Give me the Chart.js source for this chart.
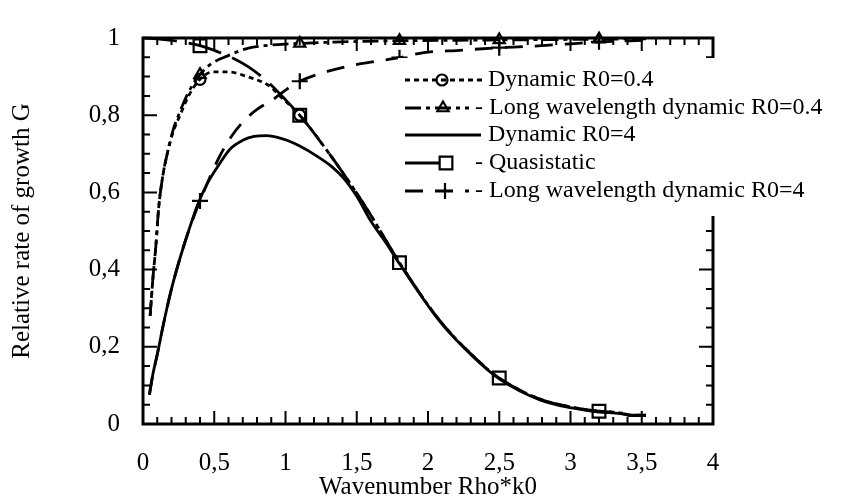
<!DOCTYPE html>
<html>
<head>
<meta charset="utf-8">
<script src="https://cdn.jsdelivr.net/npm/chart.js@4"></script>
<style>
  html, body { margin: 0; padding: 0; background: #fff; }
  #wrap { width: 847px; height: 497px; }
</style>
</head>
<body>
<div id="wrap"><canvas id="chart" width="847" height="497"></canvas></div>
<script>
"use strict";

/* values */
const xTicks = [0, 0.5, 1, 1.5, 2, 2.5, 3, 3.5, 4];
const yTicks = [0, 0.2, 0.4, 0.6, 0.8, 1];

const dynR04X = [0.05, 0.07, 0.09, 0.11, 0.14, 0.17, 0.21, 0.26, 0.32, 0.4, 0.49, 0.6, 0.73, 0.89, 0.96, 1.1,
  1.27, 1.43, 1.59, 1.8, 2.08, 2.32, 2.5, 2.79, 3.02, 3.2, 3.35, 3.42, 3.53];
const dynR04Y = [0.28, 0.38, 0.46, 0.56, 0.645, 0.70, 0.755, 0.80, 0.85, 0.893, 0.912, 0.912, 0.90, 0.875, 0.85, 0.80,
  0.719, 0.636, 0.546, 0.418, 0.269, 0.175, 0.119, 0.064, 0.043, 0.033, 0.029, 0.023, 0.023];

const lwR04X = [0.05, 0.07, 0.09, 0.11, 0.14, 0.17, 0.21, 0.26, 0.32, 0.4, 0.45, 0.52, 0.59, 0.66, 0.74, 0.85, 0.95,
  1.1, 1.4, 1.8, 2.2, 2.5, 2.9, 3.2, 3.53];
const lwR04Y = [0.28, 0.38, 0.46, 0.56, 0.645, 0.70, 0.76, 0.81, 0.86, 0.905, 0.925, 0.942, 0.953, 0.964, 0.974, 0.98, 0.983,
  0.986, 0.99, 0.993, 0.994, 0.995, 0.996, 0.997, 0.998];

const dynR4X = [0.045, 0.07, 0.1, 0.15, 0.2, 0.26, 0.32, 0.38, 0.45, 0.53, 0.61, 0.7, 0.78, 0.87, 0.95, 1.01, 1.1,
  1.22, 1.32, 1.41, 1.5, 1.6, 1.7, 1.8, 2.08, 2.32, 2.5, 2.79, 3.02, 3.2, 3.35, 3.42, 3.53];
const dynR4Y = [0.076, 0.13, 0.18, 0.27, 0.35, 0.43, 0.50, 0.565, 0.622, 0.67, 0.712, 0.735, 0.745, 0.747, 0.742, 0.735, 0.72,
  0.694, 0.668, 0.636, 0.59, 0.525, 0.472, 0.415, 0.267, 0.173, 0.117, 0.062, 0.041, 0.031, 0.027, 0.022, 0.022];

const quasiX = [0, 0.1, 0.2, 0.3, 0.4, 0.5, 0.6, 0.74, 0.87, 1.0, 1.1, 1.27, 1.43, 1.59, 1.8, 2.08, 2.32, 2.5,
  2.79, 3.02, 3.2, 3.35, 3.42, 3.53];
const quasiY = [1.0, 0.998, 0.994, 0.988, 0.98, 0.968, 0.953, 0.925, 0.888, 0.84, 0.80, 0.719, 0.636, 0.546, 0.418, 0.269, 0.175, 0.119,
  0.064, 0.043, 0.033, 0.029, 0.023, 0.023];

const lwR4X = [0.045, 0.07, 0.1, 0.15, 0.2, 0.26, 0.32, 0.4, 0.47, 0.54, 0.62, 0.7, 0.8, 0.91, 1.0, 1.1, 1.3, 1.52,
  1.8, 1.97, 2.22, 2.5, 2.7, 3.0, 3.2, 3.53];
const lwR4Y = [0.076, 0.13, 0.18, 0.27, 0.35, 0.43, 0.50, 0.578, 0.64, 0.695, 0.745, 0.782, 0.815, 0.84, 0.865, 0.888, 0.914, 0.933,
  0.949, 0.962, 0.968, 0.975, 0.978, 0.985, 0.99, 0.994];

// x positions that carry a marker
const circleAt = [0.4, 1.1];
const triangleAt = [0.4, 1.1, 1.8, 2.5, 3.2];
const squareAt = [0.4, 1.1, 1.8, 2.5, 3.2];
const plusAt = [0.4, 1.1, 1.8, 2.5, 3.2];

const FONT = '"Liberation Serif", "Times New Roman", serif';
const INK = "#000";
const HOLLOW = "rgba(0,0,0,0)";

const pts = (xs, ys) => xs.map((x, i) => ({ x, y: ys[i] }));

// legend: sample line runs from 405 to `end`, marker sits at `mark`
function series(label, xs, ys, dash, style, radius, marks, legend) {
  return {
    label,
    data: pts(xs, ys),
    borderColor: INK,
    borderWidth: 2.8,
    borderDash: dash,
    pointStyle: style,
    pointRadius: (ctx) => (ctx.raw && marks.includes(ctx.raw.x) ? radius : 0),
    pointBorderColor: INK,
    pointBackgroundColor: HOLLOW,
    pointBorderWidth: 2.2,
    cubicInterpolationMode: "monotone",
    clip: 12,
    markRadius: radius,
    legend,
  };
}

const datasets = [
  series("Dynamic R0=0.4", dynR04X, dynR04Y, [5, 4], "circle", 5.5, circleAt, { end: 483, mark: 442, prefix: false }),
  series("Long wavelength dynamic R0=0.4", lwR04X, lwR04Y, [16, 5, 4, 5], "triangle", 6.5, triangleAt, { end: 469, mark: 443, prefix: true }),
  series("Dynamic R0=4", dynR4X, dynR4Y, [], "circle", 0, [], { end: 481, mark: 0, prefix: false }),
  series("Quasistatic", quasiX, quasiY, [34, 12], "rect", 9, squareAt, { end: 440, mark: 446, prefix: true }),
  series("Long wavelength dynamic R0=4", lwR4X, lwR4Y, [18, 12], "cross", 8, plusAt, { end: 469, mark: 445, prefix: true }),
];

const comma = (v) => String(Math.round(v * 10) / 10).replace(".", ",");

/* frame, inward ticks on all four sides, and the legend box */
const framePlugin = {
  id: "frame",
  afterDatasetsDraw(chart) {
    const { ctx, chartArea: a, scales } = chart;
    ctx.save();
    ctx.strokeStyle = INK;
    ctx.lineWidth = 2;
    ctx.setLineDash([]);
    ctx.beginPath();
    for (let i = 0; i <= 40; i++) {
      const px = scales.x.getPixelForValue(i / 10);
      const len = i % 5 === 0 ? 13 : 7;
      ctx.moveTo(px, a.bottom); ctx.lineTo(px, a.bottom - len);
      ctx.moveTo(px, a.top); ctx.lineTo(px, a.top + len);
    }
    for (let i = 0; i <= 20; i++) {
      const py = scales.y.getPixelForValue(i / 20);
      const len = i % 4 === 0 ? 14 : 7;
      ctx.moveTo(a.left, py); ctx.lineTo(a.left + len, py);
      ctx.moveTo(a.right, py); ctx.lineTo(a.right - len, py);
    }
    ctx.stroke();
    ctx.lineWidth = 3;
    ctx.strokeRect(a.left, a.top, a.right - a.left, a.bottom - a.top);
    ctx.restore();
  },
  afterDraw(chart) {
    const { ctx } = chart;
    const rows = [80, 108, 135, 163, 191];
    ctx.save();
    // the legend sits on a white box that hides part of the right frame
    ctx.fillStyle = "#fff";
    ctx.fillRect(398, 58, 440, 158);
    ctx.font = `24px ${FONT}`;
    ctx.textBaseline = "middle";
    chart.data.datasets.forEach((ds, i) => {
      const y = rows[i];
      const lg = ds.legend;
      ctx.strokeStyle = INK;
      ctx.lineWidth = 2.8;
      ctx.setLineDash(ds.borderDash);
      ctx.beginPath();
      ctx.moveTo(405, y);
      ctx.lineTo(lg.end, y);
      ctx.stroke();
      ctx.setLineDash([]);
      if (ds.markRadius > 0) {
        ctx.lineWidth = 2.2;
        ctx.fillStyle = HOLLOW;
        Chart.helpers.drawPoint(ctx, { pointStyle: ds.pointStyle, radius: ds.markRadius, rotation: 0, borderWidth: 2.2 }, lg.mark, y);
      }
      ctx.fillStyle = INK;
      ctx.fillText(lg.prefix ? "- " + ds.label : ds.label, lg.prefix ? 475 : 488, y);
    });
    ctx.restore();
  },
};

const axisFont = { family: FONT, size: 25 };

new Chart(document.getElementById("chart"), {
  type: "line",
  data: { datasets },
  options: {
    responsive: false,
    animation: false,
    devicePixelRatio: 1,
    layout: { padding: { top: 19.5, right: 134, left: 0, bottom: 0 } },
    plugins: { legend: { display: false }, tooltip: { enabled: false } },
    scales: {
      x: {
        type: "linear",
        min: 0, max: 4,
        afterBuildTicks: (s) => { s.ticks = xTicks.map((v) => ({ value: v })); },
        afterFit: (s) => { s.height = 73; },
        grid: { display: false, drawTicks: false },
        border: { display: false },
        ticks: { color: INK, font: axisFont, padding: 24, maxRotation: 0, autoSkip: false, callback: comma },
        title: { display: true, text: "Wavenumber Rho*k0", color: INK, font: axisFont, padding: { top: 0, bottom: -5 } },
      },
      y: {
        type: "linear",
        min: 0, max: 1,
        afterBuildTicks: (s) => { s.ticks = yTicks.map((v) => ({ value: v })); },
        afterFit: (s) => { s.width = 143; },
        grid: { display: false, drawTicks: false },
        border: { display: false },
        ticks: { color: INK, font: axisFont, padding: 23, autoSkip: false, callback: comma },
        title: { display: true, text: "Relative rate of growth G", color: INK, font: axisFont, padding: { top: 7, bottom: 0 } },
      },
    },
  },
  plugins: [framePlugin],
});
</script>
</body>
</html>
